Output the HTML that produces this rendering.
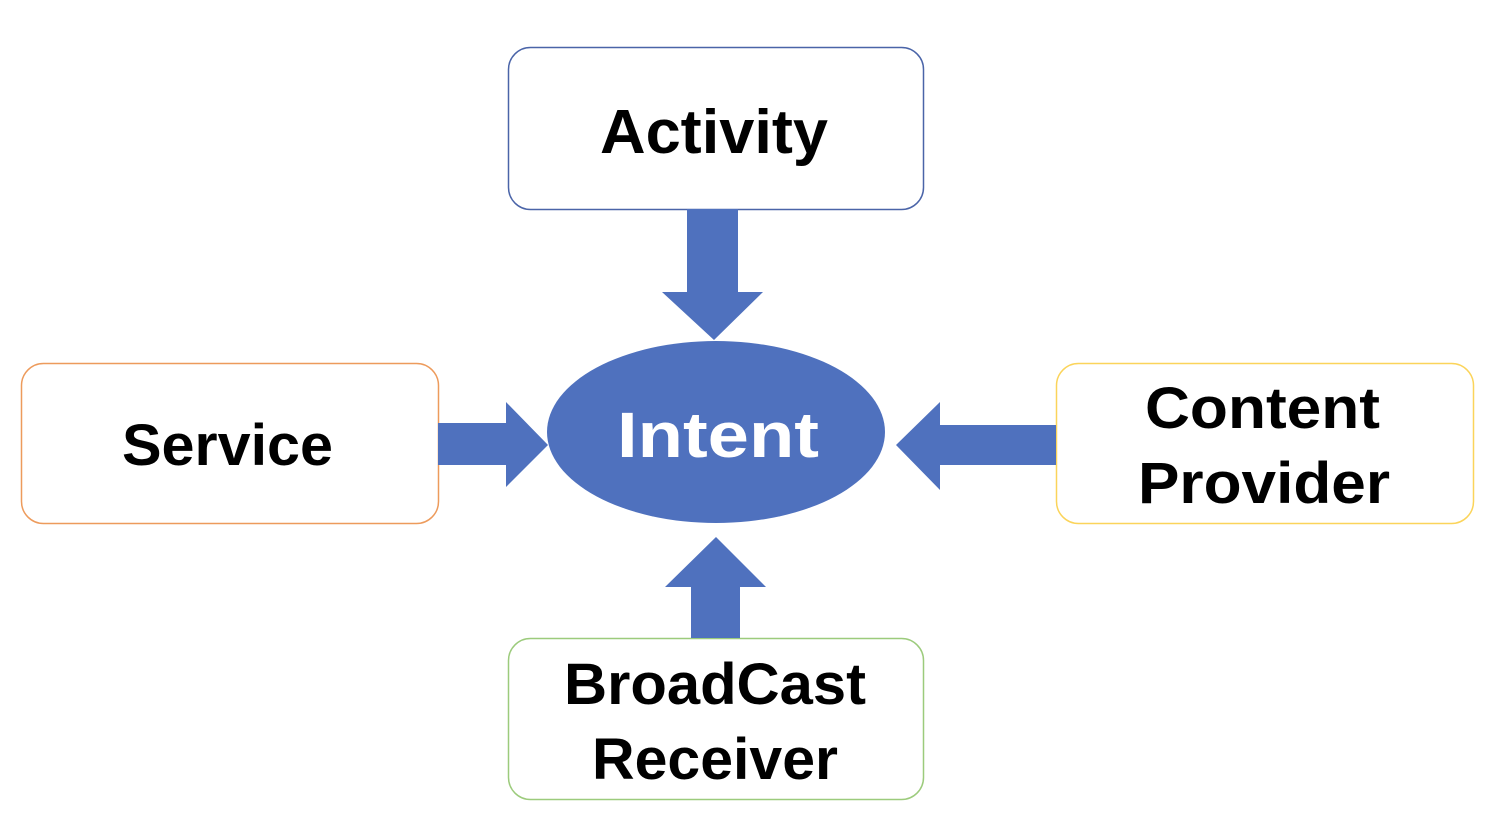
<!DOCTYPE html>
<html><head><meta charset="utf-8"><style>
html,body{margin:0;padding:0;background:#fff;width:1494px;height:840px;overflow:hidden}
text{font-family:"Liberation Sans",sans-serif;font-weight:bold}
</style></head><body>
<svg width="1494" height="840" xmlns="http://www.w3.org/2000/svg">
<rect x="508.5" y="47.5" width="415" height="162" rx="22" fill="#fff" stroke="#4a64a8" stroke-width="1.5"/>
<rect x="21.5" y="363.5" width="417" height="160" rx="22" fill="#fff" stroke="#ed9b5c" stroke-width="1.5"/>
<rect x="1056.5" y="363.5" width="417" height="160" rx="22" fill="#fff" stroke="#fbd45a" stroke-width="1.5"/>
<rect x="508.5" y="638.5" width="415" height="161" rx="22" fill="#fff" stroke="#9ccb7c" stroke-width="1.5"/>
<g fill="#4f71be">
<ellipse cx="716" cy="432" rx="169" ry="91"/>
<polygon points="687,209 738,209 738,292 763,292 714,340 662,292 687,292"/>
<polygon points="691,638 740,638 740,587 766,587 716,537 665,587 691,587"/>
<polygon points="438,423 506,423 506,402 548,445 506,487 506,465 438,465"/>
<polygon points="1056,425 940,425 940,402 896,445 940,490 940,465 1056,465"/>
</g>
<text x="600" y="153" font-size="62" textLength="228" lengthAdjust="spacingAndGlyphs" fill="#000">Activity</text>
<text x="122" y="465" font-size="58" textLength="211" lengthAdjust="spacingAndGlyphs" fill="#000">Service</text>
<text x="617" y="457" font-size="64" textLength="202" lengthAdjust="spacingAndGlyphs" fill="#fff">Intent</text>
<text x="1145" y="428" font-size="58" textLength="235" lengthAdjust="spacingAndGlyphs" fill="#000">Content</text>
<text x="1138" y="503" font-size="58" textLength="252" lengthAdjust="spacingAndGlyphs" fill="#000">Provider</text>
<text x="564" y="704" font-size="58" textLength="302" lengthAdjust="spacingAndGlyphs" fill="#000">BroadCast</text>
<text x="592" y="779" font-size="58" textLength="246" lengthAdjust="spacingAndGlyphs" fill="#000">Receiver</text>
</svg>
</body></html>
